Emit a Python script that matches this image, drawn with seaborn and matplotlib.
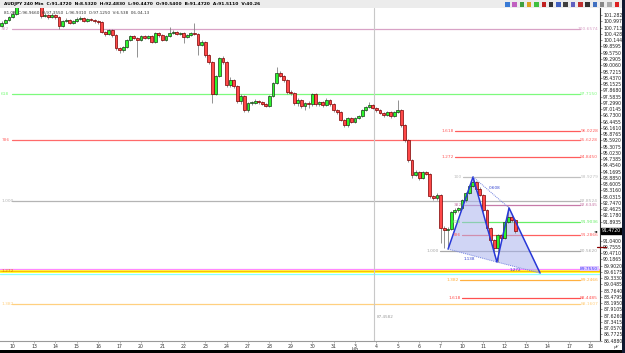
import numpy as np
import pandas as pd
import matplotlib
matplotlib.use("Agg")
import matplotlib.pyplot as plt
from matplotlib.patches import Rectangle
import seaborn as sns

# ---------------- data ----------------
first_bar = -3
first_open = 100.79
close = [100.93, 101.06, 101.20, 101.34, 102.20, 102.43, 102.52, 102.34, 102.43, 102.20,
         101.88, 101.24, 101.29, 101.20, 101.29, 101.20, 100.79, 101.02, 101.06, 100.93,
         101.02, 101.11, 101.15, 101.02, 101.11, 101.06, 101.02, 100.97, 100.52, 100.43,
         100.61, 100.38, 99.79, 99.70, 99.84, 100.15, 100.34, 100.24, 100.15, 100.34,
         100.24, 100.34, 100.06, 100.47, 100.38, 100.15, 100.34, 100.47, 100.52, 100.43,
         100.47, 100.29, 100.38, 100.47, 100.43, 99.93, 100.06, 99.47, 99.15, 97.70,
         98.52, 99.34, 99.15, 98.11, 98.34, 98.06, 97.38, 97.61, 96.97, 97.29,
         97.29, 97.38, 97.34, 97.24, 97.15, 97.61, 98.20, 98.65, 98.52, 98.34,
         97.79, 97.75, 97.29, 97.43, 97.15, 97.29, 97.24, 97.70, 97.24, 97.34,
         97.20, 97.43, 97.24, 96.97, 96.88, 96.52, 96.29, 96.61, 96.43, 96.61,
         96.70, 96.97, 97.11, 97.20, 97.06, 96.97, 96.84, 96.74, 96.88, 96.70,
         96.88, 96.97, 96.29, 95.61, 94.70, 94.02, 94.15, 93.88, 94.15, 94.06,
         93.06, 92.97, 93.11, 91.61, 91.52, 91.56, 92.34, 92.43, 92.52, 92.88,
         93.20, 93.52, 93.70, 93.38, 93.11, 92.43, 91.61, 91.06, 90.70, 91.29,
         91.15, 91.88, 92.11, 91.97, 91.47]
high = [101.02, 101.11, 101.24, 101.47, 102.34, 102.55, 102.65, 102.60, 102.55, 102.48,
        102.25, 101.92, 101.40, 101.35, 101.38, 101.34, 101.24, 101.06, 101.15, 101.11,
        101.06, 101.20, 101.24, 101.20, 101.15, 101.15, 101.11, 101.06, 101.02, 100.56,
        100.65, 100.65, 100.43, 99.84, 99.90, 100.20, 100.40, 100.38, 100.29, 100.38,
        100.40, 100.38, 100.38, 100.52, 100.52, 100.43, 100.38, 100.75, 100.60, 100.56,
        100.52, 100.50, 100.43, 100.52, 100.93, 100.47, 100.15, 100.10, 99.52, 99.20,
        98.56, 99.40, 99.42, 99.20, 98.45, 98.40, 98.11, 97.70, 97.65, 97.34,
        97.38, 97.45, 97.43, 97.40, 97.29, 97.65, 98.25, 98.93, 98.75, 98.56,
        98.40, 97.88, 97.79, 97.50, 97.47, 97.34, 97.38, 97.75, 97.75, 97.40,
        97.38, 97.50, 97.47, 97.29, 97.02, 96.93, 96.56, 96.65, 96.65, 96.65,
        96.75, 97.02, 97.15, 97.34, 97.24, 97.11, 97.00, 96.88, 96.93, 96.93,
        96.93, 97.43, 97.02, 96.34, 95.65, 94.75, 94.25, 94.20, 94.20, 94.22,
        94.10, 93.11, 93.20, 93.15, 91.70, 91.65, 92.40, 92.50, 92.56, 92.93,
        93.25, 93.56, 93.93, 93.75, 93.45, 93.15, 92.47, 91.65, 91.10, 91.35,
        91.35, 91.93, 92.61, 92.20, 92.02]
low = [100.75, 100.88, 101.02, 101.15, 101.29, 102.15, 102.35, 102.25, 102.28, 102.10,
       101.80, 101.15, 101.18, 101.10, 101.15, 101.11, 100.65, 100.75, 100.97, 100.88,
       100.88, 100.97, 101.06, 100.97, 100.97, 101.02, 100.93, 100.90, 100.45, 100.35,
       100.38, 100.30, 99.70, 99.56, 99.60, 99.80, 100.10, 100.18, 99.38, 100.10,
       100.18, 100.20, 100.00, 100.02, 100.30, 100.10, 100.10, 100.30, 100.43, 100.38,
       100.38, 100.02, 100.24, 100.34, 100.38, 99.47, 99.88, 99.40, 99.05, 97.29,
       97.65, 98.45, 99.05, 98.02, 98.02, 97.97, 97.29, 97.25, 96.88, 96.90,
       97.20, 97.24, 97.25, 97.18, 97.10, 97.10, 97.55, 98.15, 98.45, 98.25,
       97.70, 97.65, 97.20, 97.15, 97.06, 96.97, 97.06, 97.15, 97.15, 97.15,
       97.10, 97.15, 97.15, 96.90, 96.80, 96.45, 96.20, 96.20, 96.38, 96.38,
       96.56, 96.65, 96.93, 97.06, 97.00, 96.90, 96.78, 96.65, 96.70, 96.62,
       96.65, 96.84, 96.20, 95.50, 94.60, 93.90, 93.95, 93.80, 93.82, 94.00,
       92.97, 92.88, 92.90, 90.93, 90.70, 90.65, 91.50, 92.25, 92.35, 92.45,
       92.80, 93.15, 93.45, 93.30, 93.05, 92.35, 91.50, 90.95, 90.38, 90.06,
       91.05, 91.10, 91.83, 91.90, 91.40]

day_labels = ["10", "13", "14", "15", "16", "17", "20", "21", "22", "23", "24", "27", "28",
              "29", "30", "31", "3\nJun", "4", "5", "6", "7", "10", "11", "12", "13", "14",
              "17", "18"]

price_ticks = [86.4880, 86.7725, 87.0570, 87.3415, 87.6260, 87.9105, 88.1950, 88.4795,
               88.7640, 89.0485, 89.3330, 89.6175, 89.9020, 90.1865, 90.4710, 90.7555,
               91.0400, 91.3245, 91.6090, 91.8935, 92.1780, 92.4625, 92.7470, 93.0315,
               93.3160, 93.6005, 93.8850, 94.1695, 94.4540, 94.7385, 95.0230, 95.3075,
               95.5920, 95.8765, 96.1610, 96.4455, 96.7300, 97.0145, 97.2990, 97.5835,
               97.8680, 98.1525, 98.4370, 98.7215, 99.0060, 99.2905, 99.5750, 99.8595,
               100.1440, 100.4285, 100.7130, 100.9975, 101.2820]

fib_levels = [100.6574, 97.7150, 96.0228, 95.6228, 94.8450, 93.9279, 92.8524, 92.6345,
              91.9036, 91.2866, 90.5620, 89.2466, 88.4485, 88.1607]
fib_names = ["382", "618", "1.618", "786", "1.272", "100", "1.000", "382",
             "618", "786", "1.000", "1.382", "1.618", "1.382"]
fib_from_bar = [-0.2, -0.2, 124.0, -0.2, 124.0, 126.3, -0.2, 126.3,
                126.0, 126.0, 119.8, 125.4, 126.0, -0.2]
fib_colors = ["#d8a2c6", "#7dfa7d", "#ff5c5c", "#ff6a6a", "#ff5c5c", "#c0c0c0", "#b4b4b4",
              "#c77aa8", "#66ee66", "#ff6060", "#a8a8a8", "#ffb040", "#ff5050", "#ffd080"]

band_level = 89.7550
current_price = 91.4720
marker_price = 90.74

pattern_names = ["X", "A", "B", "C", "D"]
pattern_bar = [122.1, 129.1, 135.8, 139.2, 147.9]
pattern_price = [90.65, 93.93, 90.06, 92.52, 89.56]
ratio_text = ["1.138", "0.608", "1.272"]

vline_bar = 101.3
vline_text = "87.4582"

header1 = "AUDJPY 240 Min  C:91.4720  N:8.5320  H:92.4830  L:90.4470  O:90.5400  B:91.4720  A:91.5110  V:40.26"
header2 = "81.08  C:96.9660  H:97.3550  L:96.9310  O:97.1250  V:6.538  06-04-13"

# ---------------- figure ----------------
sns.set_theme(style="white")
plt.rcParams['font.family'] = ['DejaVu Sans']

W, H = 625, 353
fig = plt.figure(figsize=(W / 100, H / 100), dpi=100)
fig.patch.set_facecolor("white")
ax = fig.add_axes([0, 12 / H, 600 / W, 333 / H])
ax.set_facecolor("white")

x_left, x_right = -3.53, 164.7
ax.set_xlim(x_left, x_right)
ax.set_ylim(86.472, 101.608)
line_end = 159.1

# fib lines
for lv, nm, x0, col in zip(fib_levels, fib_names, fib_from_bar, fib_colors):
    ax.plot([x0, line_end], [lv, lv], color=col, lw=0.9, zorder=1)
    if x0 >= 0:
        ax.text(x0 - 0.4, lv, nm, color=col, fontsize=3.2, ha="right", va="center", zorder=6)
    else:
        ax.text(-3.2, lv, nm, color=col, fontsize=3.2, ha="left", va="center", zorder=6)
    ax.text(x_right - 0.5, lv, f"{lv:.4f}", color=col, fontsize=3.2, ha="right", va="center", zorder=6)

# full-width band
ax.axhspan(band_level - 0.20, band_level - 0.06, xmin=0, xmax=1, color="#ffff30", lw=0, zorder=1)
ax.axhline(band_level, color="#ff88ff", lw=0.9, zorder=1)
ax.axhline(band_level - 0.12, color="#ffb000", lw=0.6, zorder=1)
ax.axhline(band_level - 0.26, color="#8affff", lw=0.9, zorder=1)
ax.text(-3.2, band_level - 0.12, "1.272", color="#e08000", fontsize=3.2, ha="left", va="center", zorder=6)
ax.text(x_right - 0.5, band_level, f"{band_level:.4f}", color="#4040ff", fontsize=3.2,
        ha="right", va="center", zorder=6,
        bbox=dict(boxstyle="square,pad=0.1", fc="#e0c8ff", ec="none"))

# vertical line
ax.axvline(vline_bar, color="#c8c8c8", lw=0.8, zorder=1)
ax.text(vline_bar + 0.8, 87.56, vline_text, color="#999999", fontsize=3, ha="left", va="center")

# pattern
px, py = pattern_bar, pattern_price
ax.fill([px[0], px[1], px[2]], [py[0], py[1], py[2]], color="#aab4ee", alpha=0.55, lw=0, zorder=2)
ax.fill([px[2], px[3], px[4]], [py[2], py[3], py[4]], color="#aab4ee", alpha=0.55, lw=0, zorder=2)
pat = pd.DataFrame({"x": px, "y": py})
sns.lineplot(data=pat, x="x", y="y", sort=False, estimator=None, color="#2838d8", lw=1.1, ax=ax, zorder=5)
for i, j in [(0, 2), (1, 3), (2, 4)]:
    ax.plot([px[i], px[j]], [py[i], py[j]], color="#7080e0", lw=0.7, ls=(0, (1, 1)), zorder=5)
ax.text((px[0] + px[2]) / 2 - 1, (py[0] + py[2]) / 2 - 0.15, ratio_text[0], color="#3040d0", fontsize=3, ha="center", va="center", zorder=7)
ax.text((px[1] + px[3]) / 2 + 1, (py[1] + py[3]) / 2 + 0.2, ratio_text[1], color="#3040d0", fontsize=3, ha="center", va="center", zorder=7)
ax.text((px[2] + px[4]) / 2 - 1, (py[2] + py[4]) / 2 - 0.12, ratio_text[2], color="#3040d0", fontsize=3, ha="center", va="center", zorder=7)

# candles
n = len(close)
bars = np.arange(first_bar, first_bar + n)
opens = [first_open] + close[:-1]
df = pd.DataFrame({"bar": bars, "open": opens, "close": close, "high": high, "low": low})
ax.vlines(df["bar"], df["low"], df["high"], color="#808080", lw=0.6, zorder=3)
up = df[df["close"] >= df["open"]]
dn = df[df["close"] < df["open"]]
ax.bar(up["bar"], (up["close"] - up["open"]).clip(lower=0.03), bottom=up["open"], width=0.8,
       color="#2cf52c", edgecolor="#1a3a1a", lw=0.5, zorder=4)
ax.bar(dn["bar"], (dn["close"] - dn["open"]), bottom=dn["open"], width=0.8,
       color="#ff4848", edgecolor="#7a0000", lw=0.5, zorder=4)

# axes styling
ax.yaxis.tick_right()
ax.set_yticks(price_ticks)
ax.set_yticklabels([f"{v:.4f}" if abs(v - current_price) > 0.2 else "" for v in price_ticks],
                   fontsize=3.3, color="#222222")
ax.tick_params(axis="y", which="both", right=True, length=1.5, width=0.4, pad=0.8, color="#444444")
ax.set_xticks([6 * k for k in range(len(day_labels))])
ax.set_xticklabels(day_labels, fontsize=3.3, color="#333333", linespacing=0.75)
ax.tick_params(axis="x", bottom=True, length=1.2, width=0.4, pad=0.6, color="#888888")
for s in ["top", "left"]:
    ax.spines[s].set_visible(False)
ax.spines["right"].set_color("#333333")
ax.spines["right"].set_linewidth(0.8)
ax.spines["bottom"].set_color("#9a9a9a")
ax.spines["bottom"].set_linewidth(0.8)
ax.grid(False)
ax.set_xlabel("")
ax.set_ylabel("")

# current price box and marker on axis
ax.annotate(f"{current_price:.4f}", xy=(1.0, current_price), xycoords=("axes fraction", "data"),
            xytext=(1.5, 0), textcoords="offset points", fontsize=3.3, color="white",
            ha="left", va="center", annotation_clip=False,
            bbox=dict(boxstyle="square,pad=0.15", fc="black", ec="black"), zorder=10)
ax.annotate("\u25c4", xy=(0.993, current_price), xycoords=("axes fraction", "data"),
            fontsize=3, color="black", ha="center", va="center", annotation_clip=False)
ax.plot([0.995, 1.01], [marker_price, marker_price], transform=ax.get_yaxis_transform(),
        color="#8b0000", lw=0.9, clip_on=False, zorder=10)

# header band
fig.patches.append(Rectangle((0, 1 - 8 / H), 1, 8 / H, transform=fig.transFigure,
                             facecolor="#ececec", edgecolor="none", zorder=0))
fig.text(4 / W, 1 - 4 / H, header1, fontsize=3.2, color="black", ha="left", va="center", weight="bold")
fig.text(4 / W, 1 - 13 / H, header2, fontsize=3.0, color="#333333", ha="left", va="center")
icon_cols = ["#3a7bd5", "#c060c0", "#40a040", "#e0a020", "#40c040", "#c02020", "#333333", "#4060c0",
             "#404040", "#6060c0", "#c03030", "#333333", "#4070c0", "#888888", "#aaaaaa", "#dd2222"]
for k, c in enumerate(icon_cols):
    fig.patches.append(Rectangle(((505 + k * 7.3) / W, 1 - 7 / H), 4.5 / W, 5 / H,
                                 transform=fig.transFigure, facecolor=c, edgecolor="none", zorder=2))

# bottom black bar and right strip
fig.patches.append(Rectangle((0, 0), 1, 3 / H, transform=fig.transFigure,
                             facecolor="black", edgecolor="none", zorder=5))
fig.patches.append(Rectangle((622 / W, 0), 3 / W, 1, transform=fig.transFigure,
                             facecolor="#101830", edgecolor="none", zorder=5))
fig.text(616 / W, 6 / H, "\u00b5f\u2044", fontsize=3, color="#333333", ha="center", va="center")

fig.savefig("out.png", dpi=100)
